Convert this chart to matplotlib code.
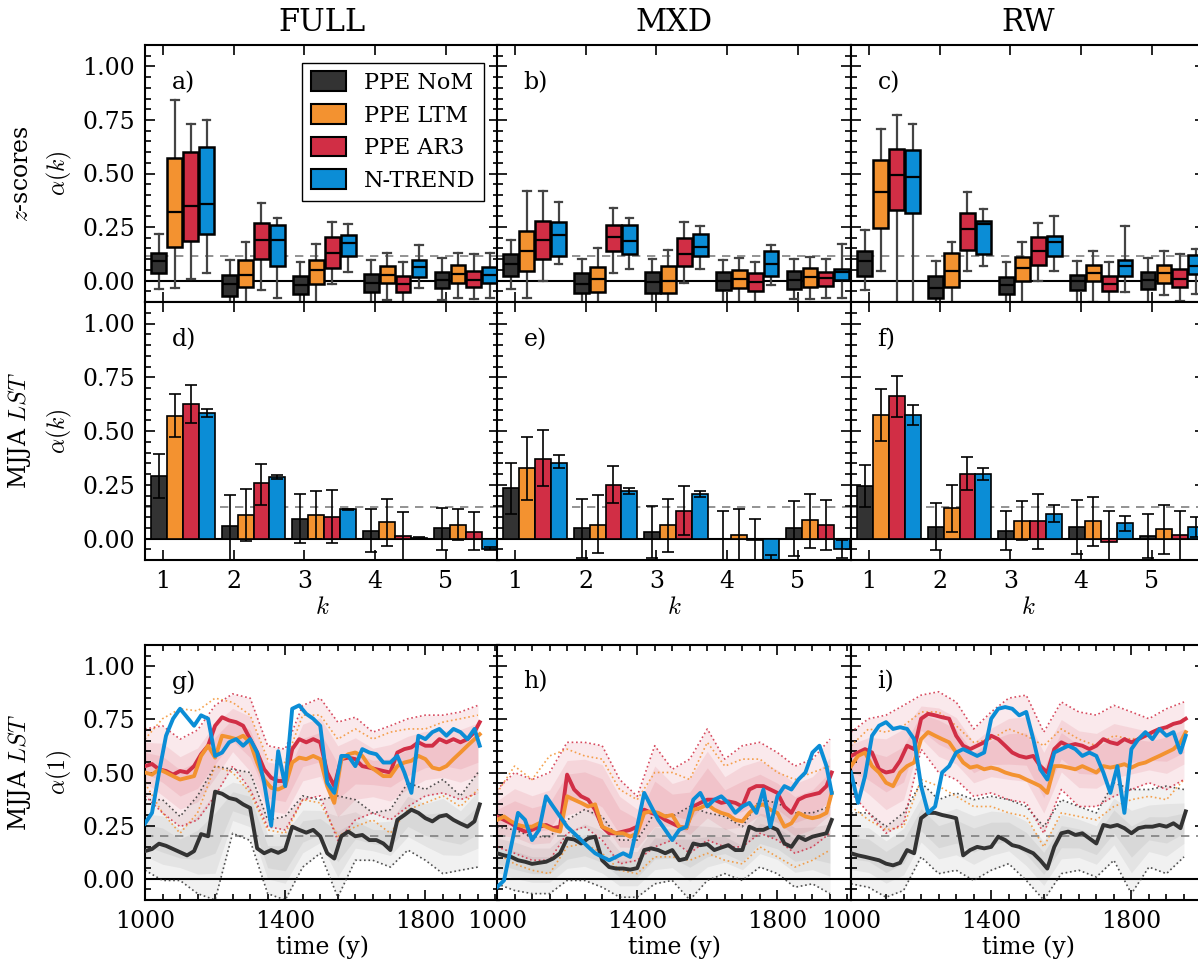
import numpy as np
import matplotlib
matplotlib.use("Agg")
import matplotlib.pyplot as plt
from matplotlib.patches import Patch
from matplotlib.ticker import MultipleLocator

plt.rcParams["font.family"] = ["DejaVu Serif"]
plt.rcParams["mathtext.fontset"] = "cm"

# ---------------------------------------------------------------
# data
# ---------------------------------------------------------------
series = ["PPE NoM", "PPE LTM", "PPE AR3", "N-TREND"]
colors = ["#333333", "#f39230", "#d12e45", "#0b8dd6"]
columns = ["FULL", "MXD", "RW"]
k_values = [1, 2, 3, 4, 5]

# box stats per k: whislo, q1, med, q3, whishi  (z-scores, alpha(k))
box_full_nom = [[-0.039, 0.036, 0.092, 0.131, 0.219], [-0.13, -0.07, -0.017, 0.027, 0.094],
                [-0.125, -0.064, -0.02, 0.022, 0.086], [-0.125, -0.055, -0.009, 0.031, 0.094],
                [-0.091, -0.034, 0.003, 0.042, 0.106]]
box_full_ltm = [[-0.036, 0.156, 0.321, 0.574, 0.842], [-0.125, -0.031, 0.025, 0.094, 0.178],
                [-0.125, -0.016, 0.05, 0.097, 0.172], [-0.091, -0.013, 0.028, 0.069, 0.13],
                [-0.081, -0.011, 0.031, 0.072, 0.131]]
box_full_ar3 = [[0.006, 0.183, 0.347, 0.602, 0.732], [-0.044, 0.102, 0.188, 0.269, 0.363],
                [-0.016, 0.061, 0.131, 0.203, 0.275], [-0.117, -0.052, -0.016, 0.023, 0.086],
                [-0.086, -0.031, 0.005, 0.047, 0.122]]
box_full_ntrend = [[0.036, 0.219, 0.357, 0.626, 0.75], [-0.081, 0.07, 0.188, 0.258, 0.293],
                   [0.042, 0.113, 0.174, 0.211, 0.266], [-0.036, 0.019, 0.063, 0.094, 0.164],
                   [-0.081, -0.011, 0.028, 0.063, 0.131]]

box_mxd_nom = [[-0.039, 0.023, 0.078, 0.124, 0.188], [-0.125, -0.059, -0.016, 0.034, 0.102],
               [-0.125, -0.056, -0.006, 0.042, 0.102], [-0.125, -0.044, 0.0, 0.042, 0.094],
               [-0.086, -0.039, 0.003, 0.047, 0.099]]
box_mxd_ltm = [[-0.081, 0.047, 0.136, 0.232, 0.418], [-0.125, -0.053, 0.008, 0.064, 0.153],
               [-0.125, -0.056, 0.0, 0.069, 0.141], [-0.11, -0.036, 0.006, 0.05, 0.106],
               [-0.086, -0.028, 0.019, 0.058, 0.11]]
box_mxd_ar3 = [[0.0, 0.102, 0.188, 0.28, 0.418], [0.036, 0.136, 0.205, 0.258, 0.341],
               [-0.013, 0.066, 0.125, 0.199, 0.274], [-0.11, -0.05, -0.008, 0.036, 0.086],
               [-0.081, -0.027, 0.013, 0.042, 0.099]]
box_mxd_ntrend = [[0.078, 0.113, 0.213, 0.274, 0.369], [0.053, 0.125, 0.183, 0.26, 0.29],
                  [0.053, 0.113, 0.155, 0.219, 0.254], [-0.019, 0.023, 0.078, 0.136, 0.164],
                  [-0.081, 0.003, 0.042, 0.053, 0.172]]

box_rw_nom = [[-0.044, 0.023, 0.091, 0.136, 0.235], [-0.125, -0.081, -0.034, 0.023, 0.091],
              [-0.125, -0.063, -0.019, 0.016, 0.085], [-0.125, -0.042, -0.003, 0.028, 0.091],
              [-0.125, -0.039, 0.003, 0.042, 0.106]]
box_rw_ltm = [[0.044, 0.247, 0.415, 0.563, 0.707], [-0.125, -0.028, 0.047, 0.13, 0.178],
              [-0.125, 0.0, 0.058, 0.11, 0.178], [-0.099, 0.0, 0.036, 0.074, 0.136],
              [-0.066, -0.009, 0.036, 0.075, 0.136]]
box_rw_ar3 = [[-0.125, 0.329, 0.493, 0.615, 0.772], [0.044, 0.141, 0.241, 0.316, 0.415],
              [-0.003, 0.074, 0.136, 0.203, 0.269], [-0.117, -0.05, -0.016, 0.023, 0.086],
              [-0.094, -0.031, 0.006, 0.055, 0.124]]
box_rw_ntrend = [[-0.125, 0.316, 0.485, 0.61, 0.731], [0.069, 0.125, 0.266, 0.277, 0.335],
                 [0.044, 0.117, 0.178, 0.207, 0.3], [-0.052, 0.022, 0.069, 0.094, 0.254],
                 [-0.063, 0.031, 0.069, 0.12, 0.147]]

# bars per k: value, error low, error high  (MJJA LST, alpha(k))
bar_full_nom = [[0.29, 0.19, 0.394], [0.059, -0.14, 0.203], [0.093, -0.02, 0.209],
                [0.037, -0.064, 0.135], [0.048, -0.054, 0.144]]
bar_full_ltm = [[0.569, 0.47, 0.671], [0.11, -0.011, 0.231], [0.11, 0.0, 0.22],
                [0.078, -0.034, 0.184], [0.064, -0.008, 0.138]]
bar_full_ar3 = [[0.625, 0.538, 0.712], [0.257, 0.158, 0.347], [0.098, -0.02, 0.226],
                [0.012, -0.12, 0.122], [0.028, -0.054, 0.122]]
bar_full_ntrend = [[0.584, 0.567, 0.603], [0.285, 0.276, 0.296], [0.135, 0.131, 0.139],
                   [0.003, -0.003, 0.006], [-0.05, -0.054, -0.039]]

bar_mxd_nom = [[0.237, 0.116, 0.353], [0.047, -0.093, 0.184], [0.029, -0.093, 0.149],
               [0.0, -0.12, 0.129], [0.047, -0.082, 0.175]]
bar_mxd_ltm = [[0.326, 0.178, 0.47], [0.064, -0.067, 0.203], [0.064, -0.062, 0.184],
               [0.017, -0.12, 0.135], [0.088, -0.042, 0.209]]
bar_mxd_ar3 = [[0.371, 0.243, 0.504], [0.25, 0.163, 0.336], [0.127, 0.016, 0.243],
               [-0.008, -0.12, 0.091], [0.064, -0.054, 0.18]]
bar_mxd_ntrend = [[0.353, 0.326, 0.388], [0.222, 0.209, 0.233], [0.205, 0.194, 0.219],
                  [-0.12, -0.165, -0.075], [-0.051, -0.093, -0.008]]

bar_rw_nom = [[0.245, 0.147, 0.344], [0.053, -0.054, 0.163], [0.036, -0.054, 0.129],
              [0.053, -0.074, 0.181], [0.011, -0.093, 0.116]]
bar_rw_ltm = [[0.574, 0.453, 0.696], [0.14, 0.031, 0.251], [0.081, -0.005, 0.174],
              [0.082, -0.034, 0.194], [0.042, -0.074, 0.157]]
bar_rw_ar3 = [[0.662, 0.566, 0.758], [0.302, 0.225, 0.377], [0.081, -0.047, 0.209],
              [-0.016, -0.12, 0.129], [0.016, -0.12, 0.129]]
bar_rw_ntrend = [[0.574, 0.527, 0.619], [0.302, 0.271, 0.33], [0.116, 0.079, 0.157],
                 [0.07, 0.036, 0.105], [0.053, 0.005, 0.101]]

# running alpha(1), medians every 20 years (last point 1955)
years = list(range(1000, 1941, 20)) + [1955]

g_nom = [0.13, 0.14, 0.165, 0.155, 0.14, 0.125, 0.11, 0.13, 0.21, 0.2,
         0.41, 0.40, 0.38, 0.372, 0.35, 0.333,
         0.143, 0.12, 0.135, 0.122, 0.138,
         0.245, 0.23, 0.217, 0.23, 0.2,
         0.12, 0.095, 0.2, 0.222, 0.2, 0.206, 0.182, 0.182, 0.166, 0.135,
         0.277, 0.3, 0.325, 0.31, 0.285,
         0.27, 0.293, 0.3, 0.277, 0.26, 0.245, 0.27, 0.35]
g_ltm = [0.5, 0.49, 0.515, 0.5, 0.483, 0.467, 0.475, 0.483, 0.578, 0.626,
         0.57, 0.673, 0.666, 0.657, 0.673, 0.642,
         0.547, 0.467, 0.428, 0.42, 0.436,
         0.547, 0.57, 0.563, 0.578, 0.563,
         0.436, 0.357, 0.563, 0.586, 0.594, 0.578, 0.53, 0.507, 0.483, 0.483,
         0.53, 0.547, 0.555, 0.578, 0.563,
         0.523, 0.515, 0.53, 0.563, 0.594, 0.626, 0.657, 0.68]
g_ar3 = [0.53, 0.54, 0.515, 0.507, 0.49, 0.507, 0.5, 0.53, 0.586, 0.626,
         0.72, 0.76, 0.745, 0.737, 0.72, 0.657,
         0.594, 0.515, 0.475, 0.46, 0.46,
         0.61, 0.657, 0.642, 0.657, 0.642,
         0.5, 0.436, 0.563, 0.57, 0.563, 0.53, 0.523, 0.515, 0.507, 0.5,
         0.594, 0.61, 0.618, 0.642, 0.626,
         0.626, 0.657, 0.642, 0.657, 0.642, 0.657, 0.69, 0.737]
g_ntrend = [0.26, 0.31, 0.5, 0.673, 0.753, 0.8, 0.76, 0.72, 0.769, 0.753,
            0.578, 0.594, 0.642, 0.657, 0.626, 0.657,
            0.594, 0.452, 0.25, 0.6, 0.436,
            0.8, 0.816, 0.776, 0.753, 0.72,
            0.452, 0.404, 0.578, 0.578, 0.53, 0.61, 0.594, 0.586, 0.547, 0.547,
            0.578, 0.5, 0.404, 0.673, 0.657,
            0.69, 0.705, 0.673, 0.705, 0.69, 0.657, 0.705, 0.626]

h_nom = [0.12, 0.11, 0.103, 0.087, 0.08, 0.07, 0.075, 0.08, 0.095, 0.12,
         0.19, 0.185, 0.166, 0.19, 0.198, 0.087,
         0.055, 0.048, 0.048, 0.043, 0.05,
         0.135, 0.143, 0.135, 0.12, 0.135,
         0.087, 0.095, 0.166, 0.158, 0.163, 0.135, 0.147, 0.158, 0.135, 0.135,
         0.245, 0.23, 0.23, 0.245, 0.23,
         0.166, 0.15, 0.198, 0.182, 0.198, 0.206, 0.214, 0.277]
h_ltm = [0.277, 0.293, 0.27, 0.253, 0.245, 0.245, 0.261, 0.245, 0.23, 0.222,
         0.388, 0.372, 0.357, 0.34, 0.35, 0.245,
         0.23, 0.214, 0.214, 0.198, 0.214,
         0.31, 0.317, 0.31, 0.293, 0.3,
         0.245, 0.238, 0.325, 0.333, 0.35, 0.325, 0.31, 0.3, 0.277, 0.27,
         0.31, 0.34, 0.35, 0.325, 0.31,
         0.245, 0.261, 0.31, 0.293, 0.285, 0.293, 0.31, 0.404]
h_ar3 = [0.293, 0.277, 0.261, 0.238, 0.222, 0.23, 0.245, 0.253, 0.238, 0.245,
         0.49, 0.42, 0.388, 0.372, 0.325, 0.245,
         0.214, 0.214, 0.222, 0.23, 0.245,
         0.325, 0.31, 0.3, 0.277, 0.261,
         0.245, 0.238, 0.34, 0.357, 0.372, 0.372, 0.357, 0.364, 0.357, 0.34,
         0.42, 0.436, 0.436, 0.42, 0.404,
         0.34, 0.31, 0.372, 0.388, 0.396, 0.404, 0.436, 0.5]
h_ntrend = [-0.04, -0.008, 0.15, 0.31, 0.277, 0.182, 0.23, 0.388, 0.34, 0.293,
            0.245, 0.214, 0.182, 0.15, 0.12, 0.103,
            0.087, 0.103, 0.12, 0.103, 0.245,
            0.404, 0.34, 0.277, 0.23, 0.182,
            0.23, 0.245, 0.372, 0.404, 0.34, 0.372, 0.388, 0.357, 0.31, 0.34,
            0.357, 0.31, 0.42, 0.245, 0.388,
            0.436, 0.42, 0.467, 0.5, 0.594, 0.626, 0.53, 0.404]

i_nom = [0.12, 0.11, 0.103, 0.095, 0.087, 0.071, 0.063, 0.075, 0.135, 0.12,
         0.285, 0.31, 0.31, 0.3, 0.293, 0.285,
         0.11, 0.135, 0.15, 0.143, 0.15,
         0.198, 0.182, 0.158, 0.15, 0.135,
         0.12, 0.087, 0.048, 0.15, 0.214, 0.222, 0.206, 0.214, 0.19, 0.166,
         0.253, 0.245, 0.253, 0.238, 0.214,
         0.238, 0.245, 0.245, 0.253, 0.245, 0.261, 0.238, 0.317]
i_ltm = [0.53, 0.578, 0.594, 0.53, 0.5, 0.452, 0.436, 0.5, 0.53, 0.547,
         0.657, 0.69, 0.673, 0.657, 0.642, 0.594,
         0.547, 0.523, 0.53, 0.515, 0.523,
         0.515, 0.5, 0.49, 0.483, 0.467,
         0.452, 0.436, 0.404, 0.53, 0.53, 0.523, 0.515, 0.53, 0.515, 0.5,
         0.53, 0.523, 0.53, 0.539, 0.523,
         0.539, 0.547, 0.563, 0.578, 0.594, 0.61, 0.642, 0.69]
i_ar3 = [0.578, 0.594, 0.61, 0.594, 0.515, 0.5, 0.507, 0.555, 0.626, 0.61,
         0.753, 0.776, 0.769, 0.76, 0.753, 0.673,
         0.626, 0.61, 0.626, 0.642, 0.673,
         0.657, 0.626, 0.594, 0.578, 0.57,
         0.578, 0.53, 0.5, 0.61, 0.642, 0.626, 0.634, 0.626, 0.61, 0.626,
         0.657, 0.642, 0.634, 0.657, 0.642,
         0.657, 0.673, 0.69, 0.705, 0.713, 0.729, 0.737, 0.753]
i_ntrend = [0.5, 0.357, 0.483, 0.673, 0.72, 0.737, 0.705, 0.713, 0.705, 0.657,
            0.436, 0.31, 0.34, 0.5, 0.53, 0.594,
            0.61, 0.594, 0.578, 0.594, 0.753,
            0.8, 0.808, 0.8, 0.769, 0.785,
            0.657, 0.515, 0.467, 0.594, 0.61, 0.626, 0.61, 0.578, 0.594, 0.578,
            0.5, 0.404, 0.53, 0.31, 0.61,
            0.657, 0.69, 0.657, 0.705, 0.673, 0.69, 0.594, 0.673]

# ensemble spread (dotted bounds), every 50 years
years_b = list(range(1000, 1951, 50))

g_ar3_hi = [0.705, 0.72, 0.657, 0.7, 0.816, 0.87, 0.85, 0.626, 0.61, 0.816,
            0.85, 0.737, 0.76, 0.69, 0.72, 0.753, 0.77, 0.77, 0.785, 0.816]
g_ar3_lo = [0.39, 0.31, 0.245, 0.277, 0.39, 0.53, 0.42, 0.245, 0.23, 0.372,
            0.39, 0.18, 0.277, 0.31, 0.277, 0.34, 0.39, 0.404, 0.372, 0.404]
g_ltm_hi = [0.657, 0.753, 0.8, 0.79, 0.85, 0.83, 0.77, 0.563, 0.547, 0.77,
            0.77, 0.657, 0.705, 0.657, 0.69, 0.705, 0.705, 0.737, 0.753, 0.77]
g_ltm_lo = [0.45, 0.31, 0.214, 0.31, 0.53, 0.5, 0.404, 0.23, 0.214, 0.372,
            0.357, 0.2, 0.245, 0.277, 0.214, 0.325, 0.357, 0.39, 0.34, 0.42]
g_nom_hi = [0.372, 0.372, 0.293, 0.39, 0.53, 0.515, 0.5, 0.277, 0.293, 0.39,
            0.372, 0.39, 0.372, 0.31, 0.325, 0.452, 0.42, 0.467, 0.39, 0.5]
g_nom_lo = [0.04, -0.008, -0.008, -0.07, -0.1, 0.214, 0.18, -0.07, -0.1, 0.055,
            0.12, -0.087, 0.087, 0.087, 0.055, 0.135, 0.087, 0.024, 0.04, 0.055]

h_ar3_hi = [0.42, 0.5, 0.467, 0.5, 0.642, 0.642, 0.626, 0.467, 0.388, 0.626,
            0.515, 0.563, 0.705, 0.563, 0.626, 0.642, 0.594, 0.53, 0.563, 0.657]
h_ar3_lo = [0.15, 0.12, 0.087, 0.087, 0.214, 0.245, 0.182, 0.07, 0.087, 0.15,
            0.182, 0.12, 0.182, 0.15, 0.15, 0.214, 0.182, 0.12, 0.15, 0.214]
h_ltm_hi = [0.404, 0.53, 0.467, 0.578, 0.61, 0.578, 0.563, 0.42, 0.372, 0.5,
            0.5, 0.467, 0.642, 0.53, 0.563, 0.563, 0.5, 0.467, 0.5, 0.53]
h_ltm_lo = [0.12, 0.07, 0.04, 0.024, 0.15, 0.166, 0.12, 0.04, 0.024, 0.103,
            0.103, 0.087, 0.12, 0.087, 0.07, 0.15, 0.103, 0.055, 0.087, 0.135]
h_nom_hi = [0.245, 0.23, 0.198, 0.198, 0.277, 0.325, 0.293, 0.182, 0.182, 0.31,
            0.293, 0.34, 0.31, 0.293, 0.245, 0.372, 0.357, 0.31, 0.31, 0.34]
h_nom_lo = [-0.024, -0.055, -0.07, -0.07, -0.008, -0.008, -0.04, -0.087, -0.087, -0.024,
            -0.008, -0.1, -0.008, 0.024, -0.008, 0.055, 0.024, -0.04, -0.024, -0.07]

i_ar3_hi = [0.69, 0.753, 0.77, 0.816, 0.864, 0.88, 0.832, 0.705, 0.785, 0.85,
            0.864, 0.69, 0.832, 0.785, 0.77, 0.816, 0.785, 0.753, 0.8, 0.832]
i_ar3_lo = [0.404, 0.31, 0.214, 0.261, 0.61, 0.5, 0.467, 0.388, 0.404, 0.372,
            0.357, 0.214, 0.42, 0.34, 0.34, 0.388, 0.42, 0.452, 0.42, 0.467]
i_ltm_hi = [0.626, 0.705, 0.69, 0.72, 0.785, 0.785, 0.72, 0.642, 0.657, 0.705,
            0.673, 0.626, 0.705, 0.657, 0.626, 0.673, 0.657, 0.673, 0.705, 0.753]
i_ltm_lo = [0.34, 0.277, 0.23, 0.245, 0.467, 0.436, 0.388, 0.34, 0.34, 0.31,
            0.293, 0.15, 0.31, 0.293, 0.277, 0.34, 0.372, 0.388, 0.372, 0.467]
i_nom_hi = [0.31, 0.31, 0.245, 0.31, 0.452, 0.372, 0.404, 0.372, 0.388, 0.372,
            0.34, 0.245, 0.372, 0.34, 0.31, 0.452, 0.42, 0.42, 0.436, 0.42]
i_nom_lo = [-0.024, -0.04, -0.087, -0.055, 0.103, 0.024, 0.04, -0.008, 0.04, 0.071,
            -0.008, -0.1, 0.024, 0.04, 0.008, 0.087, -0.07, 0.055, 0.024, 0.103]

box_panels = [[box_full_nom, box_full_ltm, box_full_ar3, box_full_ntrend],
              [box_mxd_nom, box_mxd_ltm, box_mxd_ar3, box_mxd_ntrend],
              [box_rw_nom, box_rw_ltm, box_rw_ar3, box_rw_ntrend]]
bar_panels = [[bar_full_nom, bar_full_ltm, bar_full_ar3, bar_full_ntrend],
              [bar_mxd_nom, bar_mxd_ltm, bar_mxd_ar3, bar_mxd_ntrend],
              [bar_rw_nom, bar_rw_ltm, bar_rw_ar3, bar_rw_ntrend]]
line_panels = [[g_nom, g_ltm, g_ar3, g_ntrend],
               [h_nom, h_ltm, h_ar3, h_ntrend],
               [i_nom, i_ltm, i_ar3, i_ntrend]]
bound_panels = [[(g_nom_lo, g_nom_hi), (g_ltm_lo, g_ltm_hi), (g_ar3_lo, g_ar3_hi)],
                [(h_nom_lo, h_nom_hi), (h_ltm_lo, h_ltm_hi), (h_ar3_lo, h_ar3_hi)],
                [(i_nom_lo, i_nom_hi), (i_ltm_lo, i_ltm_hi), (i_ar3_lo, i_ar3_hi)]]

thresholds = [0.113, 0.147, 0.2]
letters = [["a)", "b)", "c)"], ["d)", "e)", "f)"], ["g)", "h)", "i)"]]
ylabels = ["$z$-scores\n$\\alpha(k)$", "MJJA $LST$\n$\\alpha(k)$", "MJJA $LST$\n$\\alpha(1)$"]

# ---------------------------------------------------------------
# figure
# ---------------------------------------------------------------
W, H = 1198, 961
fig = plt.figure(figsize=(W / 100, H / 100), dpi=100)

col_left = [145, 497, 851]
col_w = 354
row_top = [45, 302, 645]
row_h = [257, 258, 255]


def make_ax(r, c):
    return fig.add_axes([col_left[c] / W, 1 - (row_top[r] + row_h[r]) / H, col_w / W, row_h[r] / H])


def style_ax(ax, r, c):
    ax.set_ylim(-0.1, 1.1)
    ax.set_yticks([0, 0.25, 0.5, 0.75, 1.0])
    ax.yaxis.set_minor_locator(MultipleLocator(0.05))
    ax.tick_params(which="both", direction="in", top=True, right=True, labelsize=17, width=1.2)
    ax.tick_params(which="major", length=7, pad=7)
    ax.tick_params(which="minor", length=4)
    for s in ax.spines.values():
        s.set_linewidth(1.5)
    if c == 0:
        ax.set_yticklabels(["0.00", "0.25", "0.50", "0.75", "1.00"])
        ax.set_ylabel(ylabels[r], fontsize=17, labelpad=6, linespacing=1.6)
    else:
        ax.set_yticklabels([])
    ax.axhline(0, color="black", lw=1.5, zorder=1)
    ax.axhline(thresholds[r], color="gray", lw=1.2, ls=(0, (5, 4)), zorder=1)
    ax.text(0.075, 0.855, letters[r][c], transform=ax.transAxes, fontsize=17, va="center")


offsets = [-0.055 + i * 0.225 for i in range(4)]

for c in range(3):
    # ---- row 1: box plots ----
    ax = make_ax(0, c)
    for i in range(4):
        stats = [dict(whislo=b[0], q1=b[1], med=b[2], q3=b[3], whishi=b[4]) for b in box_panels[c][i]]
        pos = [k + offsets[i] for k in k_values]
        bp = ax.bxp(stats, positions=pos, widths=0.21, patch_artist=True, showfliers=False,
                    capwidths=0.11, manage_ticks=False,
                    boxprops=dict(edgecolor="black", linewidth=1.8),
                    medianprops=dict(color="black", linewidth=1.6),
                    whiskerprops=dict(color="#444444", linewidth=1.6),
                    capprops=dict(color="#444444", linewidth=1.6))
        for patch in bp["boxes"]:
            patch.set_facecolor(colors[i])
            patch.set_zorder(3)
        for med in bp["medians"]:
            med.set_zorder(4)
    ax.set_xlim(0.75, 5.75)
    ax.set_xticks(k_values)
    ax.set_xticklabels([])
    style_ax(ax, 0, c)
    ax.set_title(columns[c], fontsize=22, pad=10)
    if c == 0:
        handles = [Patch(facecolor=colors[i], edgecolor="black", linewidth=1.5, label=series[i]) for i in range(4)]
        ax.legend(handles=handles, loc="upper right", bbox_to_anchor=(0.99, 0.975), fontsize=16,
                  fancybox=False, edgecolor="black", framealpha=1, handlelength=1.6, handleheight=1.0,
                  borderpad=0.4, labelspacing=0.45, handletextpad=0.8)

    # ---- row 2: bars ----
    ax = make_ax(1, c)
    for i in range(4):
        d = np.array(bar_panels[c][i])
        x = np.array(k_values) + offsets[i]
        ax.bar(x, d[:, 0], width=0.225, color=colors[i], edgecolor="black", linewidth=1.2, zorder=2)
        ax.errorbar(x, d[:, 0], yerr=[d[:, 0] - d[:, 1], d[:, 2] - d[:, 0]], fmt="none",
                    ecolor="black", elinewidth=1.2, capsize=4, capthick=1.2, zorder=3)
    ax.set_xlim(0.75, 5.75)
    ax.set_xticks(k_values)
    style_ax(ax, 1, c)
    ax.set_xlabel("$k$", fontsize=18, labelpad=2)

    # ---- row 3: running alpha(1) ----
    ax = make_ax(2, c)
    band_colors = ["#777777", None, "#d12e45"]
    for j, (lo, hi) in enumerate(bound_panels[c]):
        lo = np.array(lo)
        hi = np.array(hi)
        if band_colors[j] is not None:
            for f in [0.0, 0.2, 0.35]:
                ax.fill_between(years_b, lo + f * (hi - lo), hi - f * (hi - lo), color=band_colors[j],
                                alpha=0.1, lw=0, zorder=1)
        ax.plot(years_b, lo, ls=":", color=colors[j], lw=1.2, alpha=0.85, zorder=2)
        ax.plot(years_b, hi, ls=":", color=colors[j], lw=1.2, alpha=0.85, zorder=2)
    for i in [0, 2, 1, 3]:
        ax.plot(years, line_panels[c][i], color=colors[i], lw=2.8, zorder=4)
    ax.set_xlim(1000, 2010)
    ax.set_xticks([1000, 1400, 1800])
    ax.xaxis.set_minor_locator(MultipleLocator(50))
    style_ax(ax, 2, c)
    ax.set_xlabel("time (y)", fontsize=17, labelpad=2)

fig.savefig("out.png", dpi=100)
